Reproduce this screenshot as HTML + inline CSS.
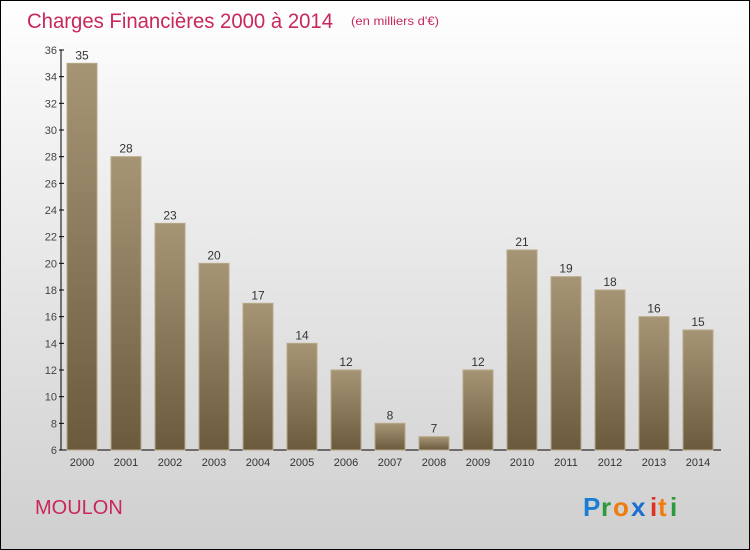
<!DOCTYPE html>
<html><head><meta charset="utf-8"><style>
body{margin:0;width:750px;height:550px;overflow:hidden}
#c{position:absolute;left:0;top:0;width:748px;height:548px;border:1px solid #000;background:linear-gradient(#fff,#f4f4f4 20%,#cfcfcf)}
text{font-family:"Liberation Sans",sans-serif}
</style></head><body>
<div id="c">
<svg width="750" height="550" style="position:absolute;left:-1px;top:-1px">
<defs><linearGradient id="bg" x1="0" y1="0" x2="0" y2="1"><stop offset="0" stop-color="#a69575"/><stop offset="1" stop-color="#6c5a3e"/></linearGradient></defs>
<text x="27" y="28" font-size="21" fill="#c8285a" textLength="306" lengthAdjust="spacingAndGlyphs">Charges Financières 2000 à 2014</text>
<text x="351" y="25" font-size="12" fill="#c8285a" textLength="88" lengthAdjust="spacingAndGlyphs">(en milliers d'€)</text>
<g id="ax"></g><g id="bars"></g>
<text x="35" y="514" font-size="20" fill="#c8285a">MOULON</text>
<g font-size="26" font-weight="bold">
<text x="583" y="516" fill="#1a7fd4">P</text><text x="601" y="516" fill="#2a9a3a">r</text><text x="613" y="516" fill="#f07c10">o</text><text x="631" y="516" fill="#1a6fd0">x</text><text x="650" y="516" fill="#e03020">i</text><text x="658" y="516" fill="#f07c10">t</text><text x="670" y="516" fill="#2a9a3a">i</text>
</g>
</svg></div>
<script>
const years=["2000","2001","2002","2003","2004","2005","2006","2007","2008","2009","2010","2011","2012","2013","2014"];
const values=[35,28,23,20,17,14,12,8,7,12,21,19,18,16,15];
const yTicks=[6,8,10,12,14,16,18,20,22,24,26,28,30,32,34,36];
const NS="http://www.w3.org/2000/svg";
const y=v=>450-(v-6)/30*400, x=i=>82+i*44;
function mk(t,a,p,txt){const e=document.createElementNS(NS,t);for(const k in a)e.setAttribute(k,a[k]);if(txt!=null)e.textContent=txt;p.appendChild(e);return e;}
const ax=document.getElementById('ax'),bars=document.getElementById('bars');
let l=mk('line',{x1:61,y1:50,x2:61,y2:450,stroke:'#000'},ax);


l=mk('line',{x1:61,y1:450,x2:721,y2:450,stroke:'#000'},ax);


yTicks.forEach(v=>{
 mk('line',{x1:59,y1:y(v),x2:64,y2:y(v),stroke:'#000'},ax);
 const t=mk('text',{x:57,y:y(v)+4,'font-size':11,fill:'#444','text-anchor':'end'},ax,v);
 
 
});
years.forEach((yr,i)=>{
 const r=mk('rect',{x:x(i)-15,y:y(values[i]),width:30,height:450-y(values[i]),fill:'url(#bg)',stroke:'#b8a888','stroke-width':1},bars);
 
 
 const v=mk('text',{x:x(i),y:y(values[i])-4,'font-size':12,fill:'#333','text-anchor':'middle'},bars,values[i]);
 
 
 const t=mk('text',{x:x(i),y:466,'font-size':11,fill:'#333','text-anchor':'middle'},bars,yr);
 
 
});
</script>
</body></html>
